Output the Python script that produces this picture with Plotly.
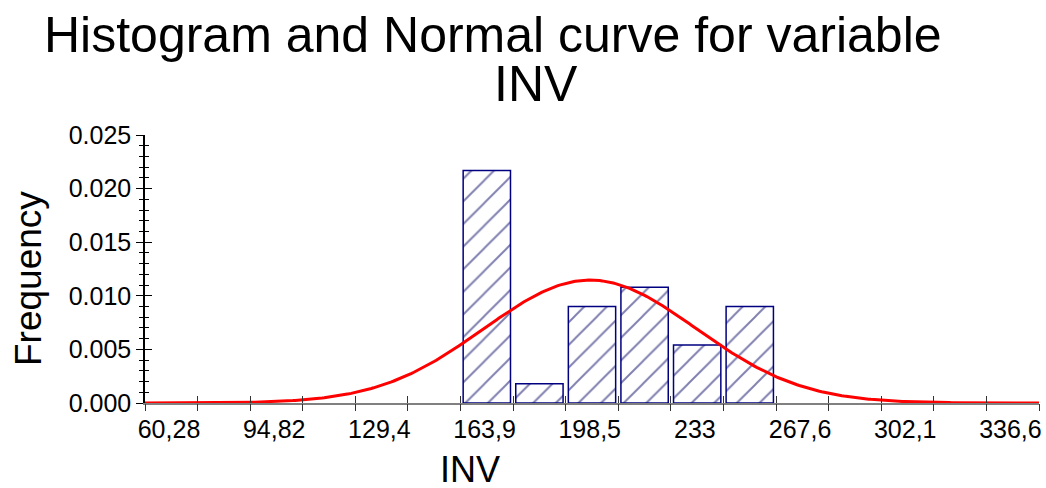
import numpy as np
import plotly.graph_objects as go

# Histogram of INV (density scale), 6 classes between the data min and max
data_min = 163.92
data_max = 267.6
densities = [0.0217, 0.0018, 0.0090, 0.0108, 0.0054, 0.0090]

# Fitted normal curve parameters
mean_inv = 206.5
sd_inv = 34.8

# Axis tick labels (every second class boundary)
x_tick_labels = ["60,28", "94,82", "129,4", "163,9", "198,5", "233", "267,6", "302,1", "336,6"]
y_tick_values = [0.000, 0.005, 0.010, 0.015, 0.020, 0.025]

n_bins = len(densities)
bin_w = (data_max - data_min) / n_bins
x_lo = data_min - 6 * bin_w
x_hi = data_max + 5 * bin_w
centers = [data_min + (i + 0.5) * bin_w for i in range(n_bins)]

# Class-boundary ticks across the whole axis
tick_pos = [x_lo + k * bin_w for k in range(18)]
tick_txt = [x_tick_labels[k // 2] if k % 2 == 0 and k // 2 < len(x_tick_labels) else "" for k in range(18)]

xs = np.linspace(x_lo, x_hi, 400)
pdf = np.exp(-0.5 * ((xs - mean_inv) / sd_inv) ** 2) / (sd_inv * np.sqrt(2 * np.pi))

FONT = "Liberation Sans, Arial, sans-serif"
NAVY = "#000080"

fig = go.Figure()
fig.add_trace(go.Bar(
    x=centers, y=densities, width=bin_w * 0.9,
    marker=dict(color="white",
                line=dict(color=NAVY, width=1.5),
                pattern=dict(shape="/", fgcolor="#000060", bgcolor="white", size=16, solidity=0.12)),
    showlegend=False, hoverinfo="skip",
))
fig.add_trace(go.Scatter(
    x=xs, y=pdf, mode="lines", line=dict(color="#ff0000", width=3),
    showlegend=False, hoverinfo="skip",
))
# invisible trace to activate the mirrored tick axes
fig.add_trace(go.Scatter(x=[x_lo], y=[0], xaxis="x2", yaxis="y2", mode="markers",
                         marker=dict(opacity=0), showlegend=False, hoverinfo="skip"))

fig.update_layout(
    width=1046, height=488,
    margin=dict(l=145, r=7, t=135, b=85),
    paper_bgcolor="white", plot_bgcolor="white",
    font=dict(family=FONT, color="black"),
    # labelled x axis carries the upper half of each tick
    xaxis=dict(range=[x_lo, x_hi], tickvals=tick_pos, ticktext=tick_txt,
               ticks="inside", ticklen=7, tickcolor="#333333", tickwidth=1.2,
               showline=True, linecolor="#808080", linewidth=1.5,
               showgrid=False, zeroline=False, tickfont=dict(size=25),
               ticklabelshift=24, ticklabelstandoff=3, automargin=False),
    xaxis2=dict(range=[x_lo, x_hi], overlaying="x", anchor="y", side="bottom",
                tickvals=tick_pos, ticks="outside", ticklen=7, tickcolor="#333333", tickwidth=1.2,
                showticklabels=False, showline=False, showgrid=False, zeroline=False),
    yaxis=dict(range=[0, 0.025], tickvals=y_tick_values, tickformat=".3f",
               ticks="outside", ticklen=7, tickcolor="black", tickwidth=1.2,
               minor=dict(dtick=0.001, ticks="outside", ticklen=4, tickcolor="black", tickwidth=1),
               showline=True, linecolor="black", linewidth=1.5,
               showgrid=False, zeroline=False, tickfont=dict(size=25), automargin=False),
    yaxis2=dict(range=[0, 0.025], overlaying="y", anchor="x", side="left",
                tickvals=y_tick_values, ticks="inside", ticklen=7, tickcolor="black", tickwidth=1.2,
                minor=dict(dtick=0.001, ticks="inside", ticklen=4, tickcolor="black", tickwidth=1),
                showticklabels=False, showline=False, showgrid=False, zeroline=False),
    annotations=[
        dict(text="Histogram and Normal curve for variable", xref="paper", yref="paper",
             x=0.3895, y=1.373, xanchor="center", yanchor="middle", showarrow=False,
             font=dict(size=50, family=FONT)),
        dict(text="INV", xref="paper", yref="paper",
             x=0.437, y=1.19, xanchor="center", yanchor="middle", showarrow=False,
             font=dict(size=50, family=FONT)),
        dict(text="INV", xref="paper", yref="paper",
             x=0.363, y=-0.248, xanchor="center", yanchor="middle", showarrow=False,
             font=dict(size=36, family=FONT)),
        dict(text="Frequency", xref="paper", yref="paper", textangle=-90,
             x=-0.131, y=0.466, xanchor="center", yanchor="middle", showarrow=False,
             font=dict(size=37, family=FONT)),
    ],
)

fig.write_html("out.html")
